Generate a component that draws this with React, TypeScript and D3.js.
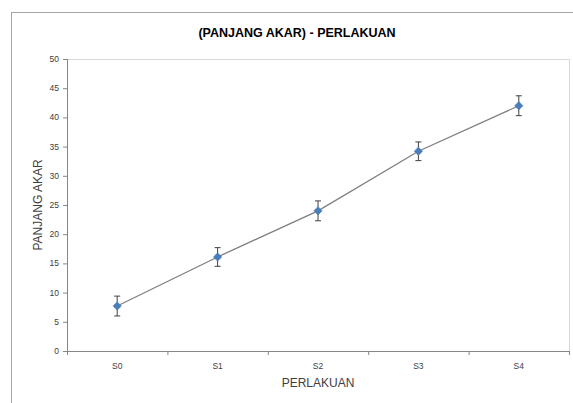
import React from "react";
import * as d3 from "d3";

const categories = ["S0", "S1", "S2", "S3", "S4"];
const values = [7.7, 16.1, 24.0, 34.2, 42.0];
const errors = [1.7, 1.6, 1.7, 1.6, 1.7];
const yTicks = [0, 5, 10, 15, 20, 25, 30, 35, 40, 45, 50];

const W = 573;
const H = 403;
const plot = { left: 67, right: 569, top: 59, bottom: 351 };

export default function App() {
  const x = d3
    .scaleBand<string>()
    .domain(categories)
    .range([plot.left, plot.right])
    .padding(0);
  const y = d3.scaleLinear().domain([0, 50]).range([plot.bottom, plot.top]);
  const cx = (c: string) => (x(c) as number) + x.bandwidth() / 2;
  const line = d3
    .line<number>()
    .x((_, i) => cx(categories[i]))
    .y((v) => y(v));
  const boundaries = categories.map((c) => x(c) as number).concat([plot.right]);
  const diamond = "M0,-4.2L4.2,0L0,4.2L-4.2,0Z";

  return (
    <svg
      width={W}
      height={H}
      style={{ position: "absolute", left: 0, top: 0, background: "#fff" }}
      fontFamily="Liberation Sans, Arial, sans-serif"
    >
      <rect x={11.5} y={12.5} width={W + 10} height={H + 10} fill="#fff" stroke="#a6a6a6" strokeWidth={1} />
      <text x={297} y={37} textAnchor="middle" fontSize={12.5} fontWeight="bold" fill="#000">
        (PANJANG AKAR) - PERLAKUAN
      </text>
      <rect
        x={plot.left + 0.5}
        y={plot.top + 0.5}
        width={plot.right - plot.left}
        height={plot.bottom - plot.top}
        fill="none"
        stroke="#d9d9d9"
        strokeWidth={1}
      />
      <line x1={plot.left + 0.5} x2={plot.left + 0.5} y1={plot.top} y2={plot.bottom} stroke="#868686" />
      {yTicks.map((t) => (
        <g key={t}>
          <line x1={plot.left - 4} x2={plot.left} y1={y(t) + 0.5} y2={y(t) + 0.5} stroke="#868686" />
          <text x={plot.left - 8} y={y(t) + 3} textAnchor="end" fontSize={8.5} fill="#404040">
            {t}
          </text>
        </g>
      ))}
      <line x1={plot.left - 4} x2={plot.right + 1} y1={plot.bottom + 0.5} y2={plot.bottom + 0.5} stroke="#868686" />
      {boundaries.map((b, i) => (
        <line key={i} x1={b + 0.5} x2={b + 0.5} y1={plot.bottom} y2={plot.bottom + 4} stroke="#868686" />
      ))}
      {categories.map((c) => (
        <text key={c} x={cx(c)} y={plot.bottom + 18} textAnchor="middle" fontSize={8.5} fill="#404040">
          {c}
        </text>
      ))}
      <text x={318} y={387} textAnchor="middle" fontSize={12} fill="#404040">
        PERLAKUAN
      </text>
      <text
        transform={`translate(42,${(plot.top + plot.bottom) / 2}) rotate(-90)`}
        textAnchor="middle"
        fontSize={12}
        fill="#404040"
      >
        PANJANG AKAR
      </text>
      <path d={line(values) as string} fill="none" stroke="#7f7f7f" strokeWidth={1.3} />
      {values.map((v, i) => {
        const px = cx(categories[i]);
        const t = y(v + errors[i]);
        const b = y(v - errors[i]);
        return (
          <g key={i} stroke="#404040" strokeWidth={1}>
            <line x1={px} x2={px} y1={t} y2={b} />
            <line x1={px - 3} x2={px + 3} y1={t} y2={t} />
            <line x1={px - 3} x2={px + 3} y1={b} y2={b} />
          </g>
        );
      })}
      {values.map((v, i) => (
        <path key={i} d={diamond} transform={`translate(${cx(categories[i])},${y(v)})`} fill="#4a7ebb" stroke="#4a7ebb" strokeWidth={0.5} />
      ))}
    </svg>
  );
}
